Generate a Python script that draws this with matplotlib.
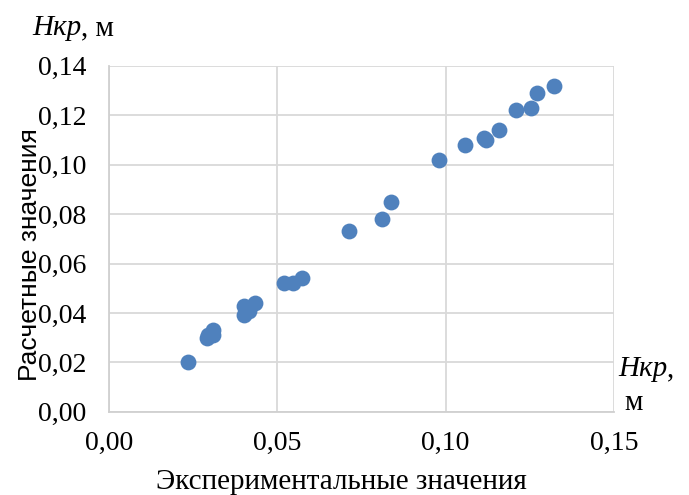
import matplotlib.pyplot as plt

plt.rcParams['font.family'] = ['Liberation Serif', 'DejaVu Serif']

x_exp = [0.0235, 0.029, 0.0295, 0.031, 0.031, 0.040, 0.040, 0.0415, 0.0435,
         0.052, 0.0546, 0.0575, 0.0713, 0.081, 0.0838, 0.0981, 0.1057,
         0.1114, 0.112, 0.1158, 0.1208, 0.1253, 0.1273, 0.1322]
y_calc = [0.020, 0.030, 0.031, 0.031, 0.033, 0.039, 0.043, 0.041, 0.044,
          0.052, 0.052, 0.054, 0.073, 0.078, 0.085, 0.102, 0.108,
          0.111, 0.110, 0.114, 0.122, 0.123, 0.129, 0.132]

xticks = [0.00, 0.05, 0.10, 0.15]
yticks = [0.00, 0.02, 0.04, 0.06, 0.08, 0.10, 0.12, 0.14]

fig = plt.figure(figsize=(6.89, 4.95), dpi=100)
ax = fig.add_axes([0.158, 0.168, 0.733, 0.699])

ax.scatter(x_exp, y_calc, s=130, color='#4F81BD', zorder=3, linewidths=0)

ax.set_xlim(0, 0.15)
ax.set_ylim(0, 0.14)
ax.set_xticks(xticks)
ax.set_yticks(yticks)
ax.set_xticklabels([f"{v:.2f}".replace('.', ',') for v in xticks])
ax.set_yticklabels([f"{v:.2f}".replace('.', ',') for v in yticks])
ax.tick_params(length=0, labelsize=20)
ax.tick_params(axis='y', pad=16)
ax.tick_params(axis='x', pad=14)
ax.grid(True, color='#d9d9d9', linewidth=1.3)
ax.set_axisbelow(True)
for side in ['top', 'right']:
    ax.spines[side].set_visible(False)
for side in ['left', 'bottom']:
    ax.spines[side].set_color('#d0d0d0')
    ax.spines[side].set_linewidth(1.3)

fig.text(0.044, 0.485, 'Расчетные значения', rotation=90, fontsize=19,
         family=['Liberation Sans', 'DejaVu Sans'], ha='center', va='center')
fig.text(0.495, 0.0, 'Экспериментальные значения', fontsize=21,
         ha='center', va='bottom')

# Нкр, м labels (italic part + normal part)
t1 = fig.text(32 / 689, 1 - 35 / 495, 'Нкр', fontsize=21, style='italic',
              ha='left', va='baseline')
fig.canvas.draw()
bb = t1.get_window_extent()
fig.text(bb.x1 / 689, 1 - 35 / 495, ', м', fontsize=21, ha='left', va='baseline')

t2 = fig.text(618 / 689, 1 - 376 / 495, 'Нкр', fontsize=21, style='italic',
              ha='left', va='baseline')
fig.canvas.draw()
bb2 = t2.get_window_extent()
fig.text(bb2.x1 / 689, 1 - 376 / 495, ',', fontsize=21, ha='left', va='baseline')
fig.text(624 / 689, 1 - 410 / 495, 'м', fontsize=21, ha='left', va='baseline')

fig.savefig('out.png', dpi=100)
